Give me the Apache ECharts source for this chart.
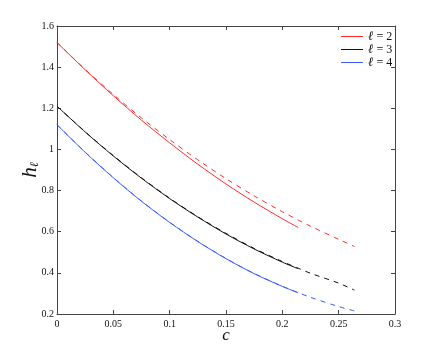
<!DOCTYPE html>
<html>
<head>
<meta charset="utf-8">
<script src="https://cdn.jsdelivr.net/npm/echarts@6/dist/echarts.min.js"></script>
<style>
  html, body { margin: 0; padding: 0; background: #fff; }
</style>
</head>
<body>
<div id="chart" style="width: 436px; height: 354px;"></div>
<script>
// solid curves (c from 0 to ~0.214)
const cSolid = [0, 0.025, 0.05, 0.075, 0.1, 0.125, 0.15, 0.175, 0.2, 0.214];
const h2Solid = [1.52, 1.387, 1.261, 1.142, 1.032, 0.928, 0.832, 0.744, 0.663, 0.621];
const h3Solid = [1.21, 1.085, 0.968, 0.86, 0.761, 0.671, 0.589, 0.516, 0.452, 0.42];
const h4Solid = [1.12, 0.986, 0.862, 0.748, 0.645, 0.552, 0.469, 0.396, 0.334, 0.303];

// dashed curves (c from 0 to ~0.264)
const cDash = [0, 0.025, 0.05, 0.075, 0.1, 0.125, 0.15, 0.175, 0.2, 0.214, 0.225, 0.25, 0.264];
const h2Dash = [1.52, 1.389, 1.267, 1.153, 1.048, 0.949, 0.858, 0.774, 0.697, 0.657, 0.627, 0.563, 0.528];
const h3Dash = [1.21, 1.086, 0.97, 0.862, 0.763, 0.673, 0.592, 0.519, 0.455, 0.423, 0.398, 0.35, 0.316];
const h4Dash = [1.12, 0.987, 0.863, 0.749, 0.646, 0.553, 0.47, 0.397, 0.335, 0.304, 0.281, 0.236, 0.215];

const legendNames = ['ℓ = 2', 'ℓ = 3', 'ℓ = 4'];
const colors = ['#ff2a2a', '#111111', '#3a5cff'];
const xTicks = [0, 0.05, 0.1, 0.15, 0.2, 0.25, 0.3];
const yTicks = [0.2, 0.4, 0.6, 0.8, 1, 1.2, 1.4, 1.6];

function pairs(xs, ys) {
    return xs.map((x, i) => [x, ys[i]]);
}

const serif = "'Liberation Serif', 'Times New Roman', serif";
const axisColor = '#444';

function lineSeries(name, xs, ys, color, dashed) {
    return {
        name: name,
        type: 'line',
        data: pairs(xs, ys),
        smooth: 0.3,
        symbol: 'none',
        lineStyle: {
            color: color,
            width: 1,
            type: dashed ? [5, 5] : 'solid'
        },
        itemStyle: { color: color },
        emphasis: { disabled: true },
        z: dashed ? 2 : 3
    };
}

const baseX = {
    type: 'value',
    min: xTicks[0],
    max: xTicks[xTicks.length - 1],
    interval: 0.05,
    splitLine: { show: false },
    axisLine: { show: true, onZero: false, lineStyle: { color: axisColor, width: 1 } },
    axisTick: { show: true, inside: true, length: 4, lineStyle: { color: axisColor } }
};
const baseY = {
    type: 'value',
    min: yTicks[0],
    max: yTicks[yTicks.length - 1],
    interval: 0.2,
    splitLine: { show: false },
    axisLine: { show: true, onZero: false, lineStyle: { color: axisColor, width: 1 } },
    axisTick: { show: true, inside: true, length: 4, lineStyle: { color: axisColor } }
};

const option = {
    backgroundColor: '#fff',
    animation: false,
    grid: {
        left: 57,
        right: 41,
        top: 26,
        bottom: 40,
        containLabel: false,
        outerBoundsMode: 'none'
    },
    legend: {
        data: legendNames.map((n, i) => ({ name: n, itemStyle: { color: colors[i] } })),
        orient: 'vertical',
        left: 336,
        top: 25,
        itemWidth: 22,
        itemHeight: 8,
        itemGap: 0,
        icon: 'path://M0,4 L22,4 L22,5 L0,5 Z',
        selectedMode: false,
        formatter: name => '{l|ℓ}{t|' + name.slice(1) + '}',
        textStyle: {
            color: '#111',
            lineHeight: 11,
            rich: {
                l: { fontFamily: serif, fontStyle: 'italic', fontSize: 13, color: '#111', lineHeight: 11 },
                t: { fontFamily: serif, fontSize: 12, color: '#111', lineHeight: 11 }
            }
        }
    },
    xAxis: [
        Object.assign({}, baseX, {
            position: 'bottom',
            name: 'c',
            nameLocation: 'middle',
            nameGap: 13,
            nameMoveOverlap: false,
            nameTextStyle: { fontFamily: serif, fontStyle: 'italic', fontSize: 17, color: '#111' },
            axisLabel: {
                fontFamily: serif,
                fontSize: 10,
                color: '#111',
                margin: 5,
                formatter: v => String(+v.toFixed(2))
            }
        }),
        Object.assign({}, baseX, {
            position: 'top',
            axisLabel: { show: false }
        })
    ],
    yAxis: [
        Object.assign({}, baseY, {
            position: 'left',
            name: '{h|h}{s|ℓ}',
            nameLocation: 'middle',
            nameGap: 16,
            nameMoveOverlap: false,
            nameRotate: 90,
            nameTextStyle: {
                rich: {
                    h: { fontFamily: serif, fontStyle: 'italic', fontSize: 21, color: '#111' },
                    s: { fontFamily: serif, fontStyle: 'italic', fontSize: 12, color: '#111', padding: [8, 0, 0, 0] }
                }
            },
            axisLabel: {
                fontFamily: serif,
                fontSize: 10,
                color: '#111',
                margin: 3,
                formatter: v => String(+v.toFixed(1))
            }
        }),
        Object.assign({}, baseY, {
            position: 'right',
            axisLabel: { show: false }
        })
    ],
    series: [
        lineSeries(legendNames[0], cSolid, h2Solid, colors[0], false),
        lineSeries(legendNames[1], cSolid, h3Solid, colors[1], false),
        lineSeries(legendNames[2], cSolid, h4Solid, colors[2], false),
        lineSeries('d2', cDash, h2Dash, colors[0], true),
        lineSeries('d3', cDash, h3Dash, colors[1], true),
        lineSeries('d4', cDash, h4Dash, colors[2], true)
    ]
};

const myChart = echarts.init(document.getElementById('chart'));
myChart.setOption(option);

window.onresize = function () {
    myChart.resize();
};
</script>
</body>
</html>
